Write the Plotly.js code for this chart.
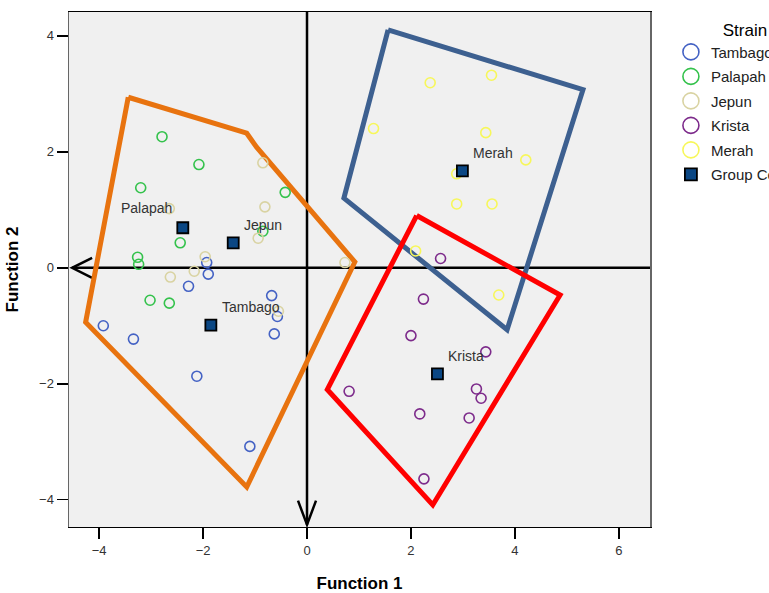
<!DOCTYPE html>
<html>
<head>
<meta charset="utf-8">
<script src="https://cdn.plot.ly/plotly-3.0.1.min.js"></script>
<style>html,body{margin:0;padding:0;background:#fff;overflow:hidden;width:769px;height:593px;}#chart{width:880px;height:593px;}</style>
</head>
<body>
<div id="chart"></div>
<script>
// ---- data ----
const strains = ['Tambago', 'Palapah', 'Jepun', 'Krista', 'Merah'];
const strainColors = ['#4462c4', '#34c24c', '#d9d3a2', '#7d2b8b', '#f7f75a'];

const tambagoX = [-1.93, -1.90, -2.28, -0.68, -0.57, -0.63, -3.92, -3.34, -2.12, -1.10];
const tambagoY = [0.09, -0.11, -0.32, -0.48, -0.84, -1.14, -1.00, -1.23, -1.87, -3.08];

const palapahX = [-2.79, -2.08, -3.20, -0.42, -2.44, -3.26, -3.24, -3.02, -2.65, -0.85];
const palapahY = [2.26, 1.78, 1.38, 1.30, 0.43, 0.18, 0.06, -0.56, -0.61, 0.63];

const jepunX = [-0.85, -0.81, -2.65, -0.94, -1.96, -2.17, -2.63, -0.55, 0.73];
const jepunY = [1.81, 1.05, 1.02, 0.51, 0.19, -0.06, -0.16, -0.75, 0.09];

const kristaX = [2.57, 2.24, 2.00, 3.44, 0.81, 3.26, 3.35, 2.17, 3.12, 2.25];
const kristaY = [0.16, -0.54, -1.17, -1.45, -2.13, -2.09, -2.25, -2.52, -2.59, -3.64];

const merahX = [2.37, 3.55, 1.28, 3.44, 4.21, 2.88, 2.88, 3.56, 2.09, 3.69];
const merahY = [3.19, 3.32, 2.40, 2.33, 1.86, 1.62, 1.10, 1.10, 0.29, -0.47];

const centroidX = [-1.85, -2.39, -1.42, 2.51, 2.99];
const centroidY = [-0.99, 0.69, 0.43, -1.83, 1.67];
const centroidLabel = 'Group Centroid';

// territory outlines
const hullOrangeX = [-3.44, -1.16, -0.97, 0.92, -1.16, -4.26, -3.44];
const hullOrangeY = [2.94, 2.32, 2.08, 0.10, -3.78, -0.94, 2.94];
const hullBlueX = [1.56, 5.31, 3.85, 0.71, 1.56];
const hullBlueY = [4.10, 3.07, -1.07, 1.20, 4.10];
const hullRedX = [2.11, 4.87, 2.42, 0.39, 2.11];
const hullRedY = [0.90, -0.47, -4.09, -2.10, 0.90];

const xTicks = [-4, -2, 0, 2, 4, 6];
const yTicks = [-4, -2, 0, 2, 4];
const xRange = [-4.58, 6.6];
const yRange = [-4.47, 4.41];

// ---- build ----
const seriesX = [tambagoX, palapahX, jepunX, kristaX, merahX];
const seriesY = [tambagoY, palapahY, jepunY, kristaY, merahY];

const traces = [];
[[hullOrangeX, hullOrangeY, '#e8730f'], [hullBlueX, hullBlueY, '#3d6090'], [hullRedX, hullRedY, '#ff0000']].forEach(h => {
  traces.push({x: h[0], y: h[1], mode: 'lines', line: {color: h[2], width: 5}, showlegend: false, hoverinfo: 'skip'});
});
strains.forEach((s, i) => {
  traces.push({x: seriesX[i], y: seriesY[i], mode: 'markers', name: s, showlegend: false,
    marker: {symbol: 'circle-open', size: 10, color: strainColors[i], line: {width: 1.6, color: strainColors[i]}}});
});
traces.push({x: centroidX, y: centroidY, mode: 'markers', name: centroidLabel, showlegend: false,
  marker: {symbol: 'square', size: 11, color: '#0b4784', line: {width: 1.8, color: '#000'}}});
strains.forEach((s, i) => {
  traces.push({x: [null], y: [null], mode: 'markers', name: s, legendgroup: 'g' + i,
    marker: {symbol: 'circle-open', size: 16, color: strainColors[i], line: {width: 1.6, color: strainColors[i]}}});
});
traces.push({x: [null], y: [null], mode: 'markers', name: centroidLabel, legendgroup: 'gc',
  marker: {symbol: 'square', size: 12, color: '#0b4784', line: {width: 1.8, color: '#000'}}});

const annotations = strains.map((s, i) => ({
  x: centroidX[i], y: centroidY[i], text: s, showarrow: false,
  xanchor: s === 'Palapah' ? 'right' : 'left',
  xshift: s === 'Palapah' ? -9 : 9, yshift: s === 'Palapah' ? 20 : 18,
  font: {family: 'Arial, Liberation Sans, sans-serif', size: 14, color: '#333'}
}));

const shapes = [
  {type: 'line', xref: 'x', yref: 'y', x0: -4.52, x1: xRange[1], y0: 0, y1: 0, line: {color: '#000', width: 2.5}, layer: 'below'},
  {type: 'line', xref: 'x', yref: 'y', x0: 0, x1: 0, y0: -4.43, y1: yRange[1], line: {color: '#000', width: 2.5}, layer: 'below'},
  {type: 'path', xref: 'x', yref: 'y', xsizemode: 'pixel', ysizemode: 'pixel', xanchor: -4.52, yanchor: 0,
    path: 'M20,10 L0,0 L20,-10', line: {color: '#000', width: 2.5}, layer: 'below'},
  {type: 'path', xref: 'x', yref: 'y', xsizemode: 'pixel', ysizemode: 'pixel', xanchor: 0, yanchor: -4.43,
    path: 'M-9,24 L0,0 L9,24', line: {color: '#000', width: 2.5}, layer: 'below'}
];

const font = {family: 'Arial, Liberation Sans, sans-serif', color: '#222'};
const layout = {
  width: 880, height: 593,
  margin: {l: 69, r: 230, t: 12, b: 66},
  paper_bgcolor: '#fff', plot_bgcolor: '#f0f0f0',
  font: font,
  showlegend: true,
  xaxis: {range: xRange, tickvals: xTicks, ticks: 'outside', ticklen: 11, tickwidth: 1.5, tickcolor: '#000',
    showgrid: false, zeroline: false, showline: true, linecolor: '#000', linewidth: 1, mirror: true,
    tickfont: {size: 13, color: '#333'},
    title: {text: '<b>Function 1</b>', font: {size: 17, color: '#000'}, standoff: 20}},
  yaxis: {range: yRange, tickvals: yTicks, ticks: 'outside', ticklen: 11, tickwidth: 1.5, tickcolor: '#000',
    showgrid: false, zeroline: false, showline: true, linecolor: '#666', linewidth: 1.5, mirror: true,
    tickfont: {size: 13, color: '#333'},
    title: {text: '<b>Function 2</b>', font: {size: 17, color: '#000'}, standoff: 16}},
  legend: {x: 1.036, xanchor: 'left', y: 0.997, yanchor: 'top', traceorder: 'grouped', tracegroupgap: 2,
    bgcolor: 'rgba(0,0,0,0)', font: {size: 15, color: '#222'},
    title: {text: 'Strain', side: 'top center', font: {size: 17, color: '#000'}}},
  annotations: annotations,
  shapes: shapes
};

Plotly.newPlot('chart', traces, layout, {displayModeBar: false, staticPlot: true});
</script>
</body>
</html>
